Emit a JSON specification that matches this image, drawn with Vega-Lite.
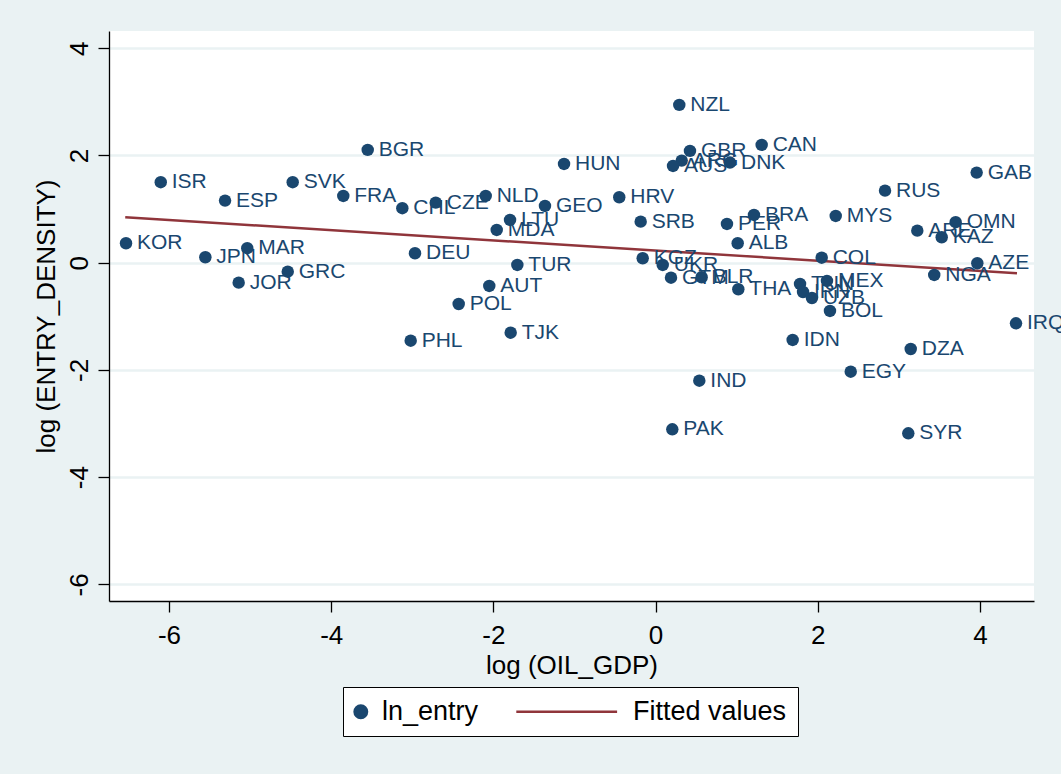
{
  "$schema": "https://vega.github.io/schema/vega-lite/v6.json",
  "width": 925,
  "height": 570,
  "autosize": {"type": "none"},
  "padding": {"left": 109, "top": 31, "right": 27, "bottom": 173},
  "background": "#eaf2f3",
  "config": {
    "font": "Liberation Sans",
    "view": {"fill": "white", "stroke": null}
  },
  "datasets": {
    "pts": [
      {"iso":"KOR","x":-6.53,"y":0.362},
      {"iso":"ISR","x":-6.102,"y":1.50},
      {"iso":"ESP","x":-5.309,"y":1.157},
      {"iso":"JPN","x":-5.552,"y":0.101},
      {"iso":"MAR","x":-5.035,"y":0.269},
      {"iso":"JOR","x":-5.141,"y":-0.373},
      {"iso":"GRC","x":-4.536,"y":-0.168},
      {"iso":"SVK","x":-4.475,"y":1.50},
      {"iso":"FRA","x":-3.851,"y":1.244},
      {"iso":"BGR","x":-3.55,"y":2.103},
      {"iso":"CHL","x":-3.123,"y":1.015},
      {"iso":"CZE","x":-2.711,"y":1.119},
      {"iso":"NLD","x":-2.095,"y":1.244},
      {"iso":"DEU","x":-2.967,"y":0.175},
      {"iso":"PHL","x":-3.02,"y":-1.455},
      {"iso":"POL","x":-2.428,"y":-0.771},
      {"iso":"AUT","x":-2.051,"y":-0.435},
      {"iso":"TUR","x":-1.705,"y":-0.043},
      {"iso":"TJK","x":-1.787,"y":-1.306},
      {"iso":"LTU","x":-1.795,"y":0.797},
      {"iso":"MDA","x":-1.959,"y":0.61},
      {"iso":"GEO","x":-1.364,"y":1.058},
      {"iso":"HUN","x":-1.129,"y":1.841},
      {"iso":"HRV","x":-0.448,"y":1.22},
      {"iso":"SRB","x":-0.184,"y":0.765},
      {"iso":"KGZ","x":-0.159,"y":0.082},
      {"iso":"UKR","x":0.088,"y":-0.043},
      {"iso":"GTM","x":0.19,"y":-0.28},
      {"iso":"BLR","x":0.568,"y":-0.272},
      {"iso":"THA","x":1.02,"y":-0.496},
      {"iso":"ALB","x":1.012,"y":0.362},
      {"iso":"PER","x":0.88,"y":0.722},
      {"iso":"BRA","x":1.213,"y":0.89},
      {"iso":"NZL","x":0.292,"y":2.942},
      {"iso":"GBR","x":0.424,"y":2.084},
      {"iso":"ARG","x":0.322,"y":1.903},
      {"iso":"AUS","x":0.215,"y":1.804},
      {"iso":"DNK","x":0.917,"y":1.866},
      {"iso":"CAN","x":1.308,"y":2.196},
      {"iso":"MYS","x":2.221,"y":0.871},
      {"iso":"RUS","x":2.829,"y":1.343},
      {"iso":"GAB","x":3.959,"y":1.679},
      {"iso":"ARE","x":3.227,"y":0.597},
      {"iso":"OMN","x":3.70,"y":0.754},
      {"iso":"KAZ","x":3.528,"y":0.474},
      {"iso":"AZE","x":3.967,"y":-0.011},
      {"iso":"NGA","x":3.436,"y":-0.229},
      {"iso":"IRQ","x":4.444,"y":-1.131},
      {"iso":"DZA","x":3.146,"y":-1.61},
      {"iso":"SYR","x":3.116,"y":-3.183},
      {"iso":"EGY","x":2.406,"y":-2.034},
      {"iso":"IDN","x":1.69,"y":-1.442},
      {"iso":"IND","x":0.539,"y":-2.201},
      {"iso":"PAK","x":0.206,"y":-3.108},
      {"iso":"COL","x":2.048,"y":0.093},
      {"iso":"MEX","x":2.113,"y":-0.341},
      {"iso":"TUN","x":1.781,"y":-0.397},
      {"iso":"IRN","x":1.818,"y":-0.547},
      {"iso":"UZB","x":1.928,"y":-0.659},
      {"iso":"BOL","x":2.15,"y":-0.901}
    ],
    "fit": [
      {"x": -6.54, "y": 0.847},
      {"x": 4.456, "y": -0.198}
    ]
  },
  "encoding": {
    "x": {
      "field": "x", "type": "quantitative",
      "scale": {"domain": [-6.74, 4.666], "nice": false, "zero": false},
      "axis": {
        "title": "log (OIL_GDP)",
        "values": [-6, -4, -2, 0, 2, 4],
        "labelExpr": "datum.value + ''",
        "grid": false,
        "tickSize": 11, "tickWidth": 1.3, "tickColor": "black",
        "domainColor": "black", "domainWidth": 1.3,
        "labelFontSize": 26, "labelColor": "black", "labelPadding": 10,
        "labelFlush": false,
        "titleFontSize": 26, "titleFontWeight": "normal", "titleColor": "black",
        "titlePadding": 4
      }
    },
    "y": {
      "field": "y", "type": "quantitative",
      "scale": {"domain": [-6.31, 4.32], "nice": false, "zero": false},
      "axis": {
        "title": "log (ENTRY_DENSITY)",
        "values": [-6, -4, -2, 0, 2, 4],
        "labelExpr": "datum.value + ''",
        "grid": true, "gridColor": "#eaf2f3", "gridWidth": 2.7,
        "tickSize": 11, "tickWidth": 1.3, "tickColor": "black",
        "domainColor": "black", "domainWidth": 1.3,
        "labelAngle": -90, "labelAlign": "center", "labelBaseline": "alphabetic",
        "labelFontSize": 26, "labelColor": "black", "labelPadding": 10.5,
        "titleFontSize": 26, "titleFontWeight": "normal", "titleColor": "black",
        "titlePadding": 7
      }
    }
  },
  "layer": [
    {
      "data": {"name": "fit"},
      "mark": {"type": "line", "strokeWidth": 2.5},
      "encoding": {
        "color": {
          "datum": "Fitted values",
          "scale": {"domain": ["ln_entry", "Fitted values"], "range": ["#1a476f", "#90353b"]},
          "legend": {
            "title": null,
            "orient": "none",
            "legendX": 234,
            "legendY": 656,
            "direction": "horizontal",
            "padding": 11,
            "strokeColor": "black",
            "fillColor": "white",
            "symbolSize": 784,
            "labelFontSize": 27,
            "labelColor": "black",
            "labelLimit": 400,
            "columnPadding": 32,
            "encode": {
              "symbols": {
                "update": {
                  "shape": {"signal": "datum.value === 'ln_entry' ? 'circle' : 'M-7.2,0H7.2'"},
                  "size": {"signal": "datum.value === 'ln_entry' ? 155 : 196"},
                  "fill": {"signal": "datum.value === 'ln_entry' ? '#1a476f' : 'transparent'"},
                  "stroke": {"signal": "datum.value === 'ln_entry' ? 'transparent' : '#90353b'"},
                  "strokeWidth": {"value": 2.5},
                  "opacity": {"value": 1},
                  "x": {"signal": "datum.value === 'ln_entry' ? 6.8 : 50.7"}
                }
              },
              "labels": {
                "update": {
                  "x": {"signal": "datum.value === 'ln_entry' ? 28 : 117"}
                }
              }
            }
          }
        }
      }
    },
    {
      "data": {"name": "pts"},
      "mark": {"type": "circle", "size": 155, "opacity": 1},
      "encoding": {
        "color": {"datum": "ln_entry"}
      }
    },
    {
      "data": {"name": "pts"},
      "mark": {"type": "text", "align": "left", "baseline": "middle", "dx": 11, "fontSize": 21, "color": "#1a476f"},
      "encoding": {
        "text": {"field": "iso"}
      }
    }
  ]
}
